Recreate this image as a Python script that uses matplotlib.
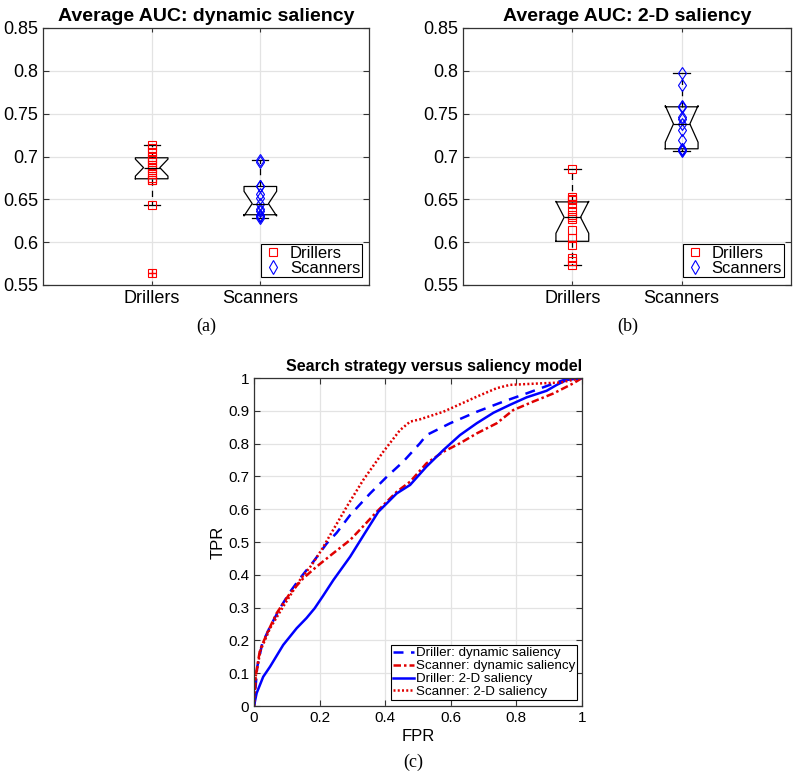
import numpy as np
import matplotlib
matplotlib.use("Agg")
import matplotlib.pyplot as plt
from matplotlib.lines import Line2D

plt.rcParams['font.family'] = ['Liberation Sans', 'DejaVu Sans']

# AUC values per subject, panel (a) dynamic saliency
drillers_dyn = [0.564, 0.643, 0.672, 0.673, 0.675, 0.680, 0.684, 0.687,
                0.690, 0.693, 0.697, 0.700, 0.705, 0.710, 0.714]
scanners_dyn = [0.628, 0.630, 0.631, 0.632, 0.636, 0.639, 0.645, 0.652,
                0.656, 0.665, 0.666, 0.694, 0.696]

# panel (b) 2-D saliency
drillers_2d = [0.573, 0.578, 0.581, 0.597, 0.605, 0.614, 0.627, 0.629,
               0.632, 0.636, 0.645, 0.649, 0.650, 0.653, 0.685]
scanners_2d = [0.707, 0.708, 0.709, 0.709, 0.719, 0.731, 0.738, 0.744,
               0.746, 0.758, 0.759, 0.784, 0.798]

groups = ["Drillers", "Scanners"]
auc_ticks = [0.55, 0.6, 0.65, 0.7, 0.75, 0.8, 0.85]
auc_labels = ["0.55", "0.6", "0.65", "0.7", "0.75", "0.8", "0.85"]

# ROC curves, panel (c)
drl_dyn_fpr = [0, 0.01, 0.025, 0.049, 0.079, 0.11, 0.14, 0.181, 0.222, 0.252,
               0.293, 0.354, 0.405, 0.455, 0.506, 0.526, 0.598, 0.679, 0.76,
               0.831, 0.902, 0.953, 1.0]
drl_dyn_tpr = [0, 0.12, 0.19, 0.242, 0.298, 0.348, 0.389, 0.44, 0.496, 0.528,
               0.582, 0.648, 0.699, 0.745, 0.801, 0.826, 0.862, 0.897, 0.928,
               0.953, 0.979, 0.997, 1.0]

scn_dyn_fpr = [0, 0.005, 0.018, 0.039, 0.069, 0.11, 0.15, 0.191, 0.242, 0.293,
               0.333, 0.374, 0.435, 0.476, 0.526, 0.577, 0.628, 0.679, 0.74,
               0.79, 0.851, 0.913, 0.974, 1.0]
scn_dyn_tpr = [0, 0.09, 0.17, 0.22, 0.283, 0.344, 0.389, 0.425, 0.466, 0.506,
               0.548, 0.592, 0.653, 0.684, 0.74, 0.775, 0.801, 0.831, 0.862,
               0.902, 0.928, 0.953, 0.984, 1.0]

drl_2d_fpr = [0, 0.008, 0.028, 0.049, 0.089, 0.13, 0.16, 0.185, 0.21, 0.242,
              0.293, 0.338, 0.379, 0.435, 0.476, 0.526, 0.577, 0.628, 0.679,
              0.73, 0.78, 0.831, 0.892, 0.923, 0.953, 1.0]
drl_2d_tpr = [0, 0.039, 0.089, 0.12, 0.186, 0.237, 0.268, 0.298, 0.335, 0.384,
              0.455, 0.527, 0.592, 0.648, 0.674, 0.73, 0.78, 0.826, 0.862,
              0.894, 0.918, 0.941, 0.961, 0.979, 0.994, 1.0]

scn_2d_fpr = [0, 0.005, 0.02, 0.049, 0.089, 0.14, 0.176, 0.206, 0.232, 0.283,
              0.333, 0.394, 0.445, 0.476, 0.506, 0.577, 0.679, 0.74, 0.78,
              0.882, 0.933, 1.0]
scn_2d_tpr = [0, 0.09, 0.17, 0.237, 0.303, 0.384, 0.43, 0.476, 0.521, 0.608,
              0.689, 0.775, 0.841, 0.867, 0.874, 0.897, 0.943, 0.969, 0.979,
              0.984, 0.986, 1.0]

roc_labels = ["Driller: dynamic saliency", "Scanner: dynamic saliency",
              "Driller: 2-D saliency", "Scanner: 2-D saliency"]


def style_axes(ax):
    ax.grid(True, color="#e3e3e3", linewidth=0.9)
    ax.set_axisbelow(True)
    ax.tick_params(direction="in", top=True, right=True, length=4,
                   width=0.8, color="#333333")
    for s in ax.spines.values():
        s.set_linewidth(0.9)
        s.set_color("#333333")


def auc_panel(ax, drillers, scanners, title):
    ax.boxplot([drillers, scanners], positions=[1, 2], widths=0.3,
               notch=True, bootstrap=None,
               boxprops=dict(color="black", linewidth=0.9),
               medianprops=dict(color="black", linewidth=0.9),
               whiskerprops=dict(color="black", linewidth=0.9,
                                 linestyle=(0, (5, 4))),
               capprops=dict(color="black", linewidth=0.9),
               flierprops=dict(marker="+", markeredgecolor="red",
                               markersize=6))
    ax.plot(np.ones(len(drillers)), drillers, "s", mfc="none", mec="red",
            ms=5.2, mew=0.8)
    ax.plot(np.full(len(scanners), 2.0), scanners, "d", mfc="none",
            mec="blue", ms=6.3, mew=0.8)
    ax.set_xlim(0, 3)
    ax.set_ylim(0.55, 0.85)
    ax.set_xticks([1, 2])
    ax.set_xticklabels(groups, fontsize=13)
    ax.set_yticks(auc_ticks)
    ax.set_yticklabels(auc_labels, fontsize=13)
    style_axes(ax)
    ax.tick_params(axis="x", length=3)
    ax.set_title(title, fontsize=14, fontweight="bold", pad=5)
    handles = [Line2D([], [], marker="s", ls="none", mfc="none", mec="red",
                      ms=5.5, mew=0.8),
               Line2D([], [], marker="d", ls="none", mfc="none", mec="blue",
                      ms=7.5, mew=0.8)]
    leg = ax.legend(handles, groups, loc="lower right",
                    bbox_to_anchor=(0.978, 0.03), fontsize=12,
                    fancybox=False, framealpha=1, edgecolor="black",
                    borderpad=0.1, labelspacing=0.0, handlelength=1.2,
                    handletextpad=0.4, borderaxespad=0)
    leg.get_frame().set_linewidth(0.8)


fig = plt.figure(figsize=(7.94, 7.74), dpi=100)

ax_a = fig.add_axes([43 / 794, 1 - 285 / 774, 326 / 794, 257 / 774])
auc_panel(ax_a, drillers_dyn, scanners_dyn, "Average AUC: dynamic saliency")

ax_b = fig.add_axes([463 / 794, 1 - 285 / 774, 328 / 794, 257 / 774])
auc_panel(ax_b, drillers_2d, scanners_2d, "Average AUC: 2-D saliency")

ax_c = fig.add_axes([254 / 794, 1 - 706 / 774, 328 / 794, 328 / 774])
ax_c.plot(drl_dyn_fpr, drl_dyn_tpr, color="blue", lw=1.8, dashes=(4, 3),
          label=roc_labels[0])
ax_c.plot(scn_dyn_fpr, scn_dyn_tpr, color="#e00000", lw=1.8,
          dashes=(3, 1.2, 1, 1.2), label=roc_labels[1])
ax_c.plot(drl_2d_fpr, drl_2d_tpr, color="blue", lw=1.8, label=roc_labels[2])
ax_c.plot(scn_2d_fpr, scn_2d_tpr, color="#e00000", lw=1.8, dashes=(0.8, 0.9),
          label=roc_labels[3])
ax_c.set_xlim(0, 1)
ax_c.set_ylim(0, 1)
ax_c.set_xticks(np.arange(0, 1.01, 0.2))
ax_c.set_xticklabels(["0", "0.2", "0.4", "0.6", "0.8", "1"], fontsize=11)
ax_c.set_yticks(np.arange(0, 1.01, 0.1))
ax_c.set_yticklabels(["0", "0.1", "0.2", "0.3", "0.4", "0.5", "0.6", "0.7",
                      "0.8", "0.9", "1"], fontsize=11)
style_axes(ax_c)
ax_c.set_xlabel("FPR", fontsize=12, labelpad=3)
ax_c.set_ylabel("TPR", fontsize=12, labelpad=2)
ax_c.set_title("Search strategy versus saliency model", fontsize=11.5,
               fontweight="bold", x=0.55, pad=5)
leg = ax_c.legend(loc="lower right", bbox_to_anchor=(0.985, 0.018),
                  fontsize=9.6, fancybox=False, framealpha=1,
                  edgecolor="black", borderpad=0.15, labelspacing=0.04,
                  handlelength=1.6, handletextpad=0.1, borderaxespad=0)
leg.get_frame().set_linewidth(0.8)

fig.text(206 / 794, 1 - 326 / 774, "(a)", family="Liberation Serif",
         fontsize=13, ha="center", va="center")
fig.text(628 / 794, 1 - 326 / 774, "(b)", family="Liberation Serif",
         fontsize=13, ha="center", va="center")
fig.text(413 / 794, 1 - 762 / 774, "(c)", family="Liberation Serif",
         fontsize=13, ha="center", va="center")

fig.savefig("out.png", dpi=100)
